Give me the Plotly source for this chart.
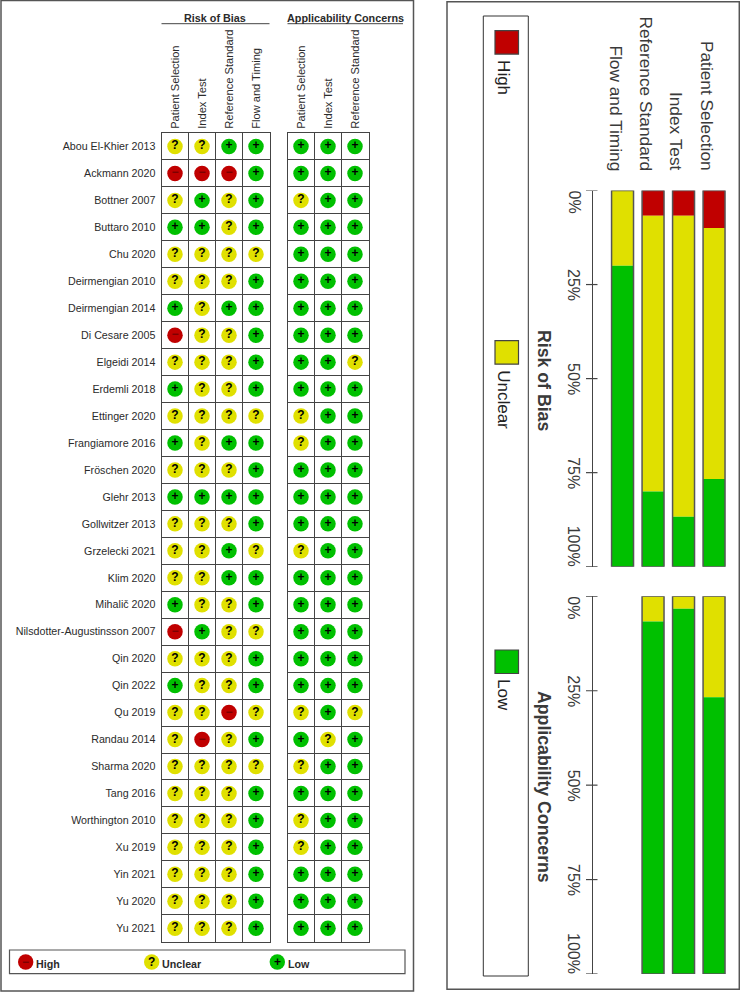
import plotly.graph_objects as go

WIDTH = 740
HEIGHT = 992

studies = ["Abou El-Khier 2013", "Ackmann 2020", "Bottner 2007", "Buttaro 2010", "Chu 2020",
           "Deirmengian 2010", "Deirmengian 2014", "Di Cesare 2005", "Elgeidi 2014", "Erdemli 2018",
           "Ettinger 2020", "Frangiamore 2016", "Fröschen 2020", "Glehr 2013", "Gollwitzer 2013",
           "Grzelecki 2021", "Klim 2020", "Mihalič 2020", "Nilsdotter-Augustinsson 2007", "Qin 2020",
           "Qin 2022", "Qu 2019", "Randau 2014", "Sharma 2020", "Tang 2016",
           "Worthington 2010", "Xu 2019", "Yin 2021", "Yu 2020", "Yu 2021"]

# one string per study: H high, U unclear, L low, four risk of bias columns then three applicability columns
judgements = ["UULLLLL", "HHHLLLL", "ULULULL", "LLULLLL", "UUUULLL",
              "UUULLLL", "LULLLLL", "HUULLLL", "UUULLLU", "LUULLLL",
              "UUUUULL", "LULLULL", "UUULLLL", "LLLLLLL", "UUULLLL",
              "UULUULL", "UULLLLL", "LUULLLL", "HLUULLL", "UUULLLL",
              "LUULLLL", "UUHUULU", "UHULLUL", "UUUUULL", "UUULLLL",
              "UUULULL", "UUULULL", "UUULLLL", "UUULLLL", "UUULLLL"]

domains_rob = ["Patient Selection", "Index Test", "Reference Standard", "Flow and Timing"]
domains_app = ["Patient Selection", "Index Test", "Reference Standard"]

# percent of studies, bars left to right
bar_domains = ["Flow and Timing", "Reference Standard", "Index Test", "Patient Selection"]
rob_high = [0, 6.7, 6.7, 10]
rob_unclear = [20, 73.3, 80, 66.7]
rob_low = [80, 20, 13.3, 23.3]
app_high = [0, 0, 0]
app_unclear = [6.7, 3.3, 26.7]
app_low = [93.3, 96.7, 73.3]
pct_ticks = [0, 25, 50, 75, 100]

RED = "#C00000"
YELLOW = "#E0E000"
GREEN = "#00C000"
LINE = "#444444"
TEXT = "#2b2b2b"
FONT = "Liberation Sans"
COLORS = {"H": RED, "U": YELLOW, "L": GREEN}
GLYPHS = {"H": "−", "U": "?", "L": "+"}
GLYPH_COLORS = {"H": "#7a0000", "U": "black", "L": "black"}


def fx(px):
    return px / WIDTH


def fy(py):
    return 1 - py / HEIGHT


fig = go.Figure()


def add_grid(first_col, n_cols, xname, yname):
    for i in range(n_cols):
        col = [row[first_col + i] for row in judgements]
        for mark in "HUL":
            rows = [r for r, v in enumerate(col) if v == mark]
            if not rows:
                continue
            fig.add_trace(go.Scatter(
                x=[i] * len(rows), y=rows, xaxis=xname, yaxis=yname, mode="markers+text",
                marker=dict(size=15.5, color=COLORS[mark], line=dict(width=0)),
                text=[GLYPHS[mark]] * len(rows), textposition="middle center",
                textfont=dict(family=FONT, size=12, color=GLYPH_COLORS[mark], weight="bold"),
                showlegend=False, hoverinfo="skip"))


add_grid(0, 4, "x", "y")
add_grid(4, 3, "x2", "y2")


def add_bars(high, unclear, low, xname, yname):
    xs = list(range(4 - len(high), 4))
    bases_l = [h + u for h, u in zip(high, unclear)]
    for vals, base, color in [(high, [0] * len(high), RED), (unclear, high, YELLOW), (low, bases_l, GREEN)]:
        fig.add_trace(go.Bar(x=xs, y=vals, base=base, width=0.72, xaxis=xname, yaxis=yname,
                             marker=dict(color=color, line=dict(width=0)),
                             showlegend=False, hoverinfo="skip"))
    # outline round the whole stack
    fig.add_trace(go.Bar(x=xs, y=[100] * len(xs), base=[0] * len(xs), width=0.72, xaxis=xname, yaxis=yname,
                         marker=dict(color="rgba(0,0,0,0)", line=dict(width=1.5, color="#555555")),
                         showlegend=False, hoverinfo="skip"))


add_bars(rob_high, rob_unclear, rob_low, "x3", "y3")
add_bars(app_high, app_unclear, app_low, "x4", "y4")

grid_minor = dict(tickmode="linear", tick0=-0.5, dtick=1, showgrid=True, gridcolor=LINE, gridwidth=1, ticks="")


def grid_xaxis(left, right, labels):
    return dict(domain=[fx(left), fx(right)], range=[-0.5, len(labels) - 0.5], side="top",
                tickmode="array", tickvals=list(range(len(labels))), ticktext=labels, tickangle=-90,
                tickfont=dict(family=FONT, size=11.1, color=TEXT), ticklen=0, ticklabelstandoff=1,
                showgrid=False, zeroline=False, showline=True, linecolor=LINE, linewidth=1, mirror=True,
                minor=grid_minor)


def grid_yaxis(xname, labels):
    return dict(domain=[fy(941.7), fy(133)], range=[29.5, -0.5], anchor=xname,
                tickmode="array", tickvals=list(range(30)), ticktext=labels,
                tickfont=dict(family=FONT, size=10.7, color=TEXT), ticklen=0, ticklabelstandoff=3,
                showgrid=False, zeroline=False, showline=True, linecolor=LINE, linewidth=1, mirror=True,
                minor=grid_minor)


def bar_yaxis(top, bottom):
    return dict(domain=[fy(bottom), fy(top)], range=[100, 0], anchor="free", position=fx(591.7),
                showgrid=False, zeroline=False, showticklabels=False, ticks="",
                showline=True, linecolor=LINE, linewidth=1.2)


def bar_xaxis():
    return dict(domain=[fx(607.3), fx(729.3)], range=[-0.5, 3.5], visible=False)


fig.update_layout(
    width=WIDTH, height=HEIGHT, margin=dict(l=0, r=0, t=0, b=0),
    paper_bgcolor="white", plot_bgcolor="rgba(0,0,0,0)", barmode="overlay",
    xaxis=dict(grid_xaxis(161.5, 269.5, domains_rob), anchor="y"),
    yaxis=grid_yaxis("x", studies),
    xaxis2=dict(grid_xaxis(287.5, 368.5, domains_app), anchor="y2"),
    yaxis2=dict(grid_yaxis("x2", [""] * 30), showticklabels=False),
    xaxis3=dict(bar_xaxis(), anchor="y3"),
    yaxis3=bar_yaxis(190.5, 566.7),
    xaxis4=dict(bar_xaxis(), anchor="y4"),
    yaxis4=bar_yaxis(596.3, 974),
)

shapes = []
annotations = []


def rect(x0, y0, x1, y1, color=LINE, width=1.0, fill=None):
    shapes.append(dict(type="rect", xref="paper", yref="paper", x0=fx(x0), x1=fx(x1), y0=fy(y1), y1=fy(y0),
                       line=dict(color=color, width=width), fillcolor=fill, layer="below" if fill is None else "above"))


def hline(x0, x1, y, color=LINE, width=1.0):
    shapes.append(dict(type="line", xref="paper", yref="paper", x0=fx(x0), x1=fx(x1), y0=fy(y), y1=fy(y),
                       line=dict(color=color, width=width)))


def label(text, x, y, size, bold=False, angle=0, xanchor="center", yanchor="middle", color=TEXT,
          xref="paper", yref="paper", xshift=0):
    annotations.append(dict(text=f"<b>{text}</b>" if bold else text, x=x, y=y, xref=xref, yref=yref,
                            showarrow=False, textangle=angle, xanchor=xanchor, yanchor=yanchor, xshift=xshift,
                            font=dict(family=FONT, size=size, color=color),
                            borderpad=0, borderwidth=0))


# panel frames
rect(1, 0.5, 413.5, 991, "#555555", 1.5)
rect(447, 1.7, 739.3, 989.3, "#555555", 1.5)
rect(9.5, 950, 405, 973.7, "#555555", 1.2)
rect(483.3, 16, 528.3, 976, "#333333", 1)
# header rules
hline(161.5, 269.5, 23.7)
hline(287.5, 403, 23.7)

label("Risk of Bias", fx(215), fy(18), 10.8, bold=True)
label("Applicability Concerns", fx(345), fy(18), 10.8, bold=True)

# left legend
for cx, mark, name in [(25.7, "H", "High"), (151.7, "U", "Unclear"), (277.3, "L", "Low")]:
    shapes.append(dict(type="circle", xref="paper", yref="paper", x0=fx(cx - 7.7), x1=fx(cx + 7.7),
                       y0=fy(962 + 7.7), y1=fy(962 - 7.7), fillcolor=COLORS[mark], line=dict(width=0), layer="above"))
    label(GLYPHS[mark], fx(cx), fy(961.5), 12, bold=True, color=GLYPH_COLORS[mark])
    label(name, fx(cx + 10.5), fy(964), 10.7, bold=True, xanchor="left")

# right legend
for top, mark, name in [(30.6, "H", "High"), (340.7, "U", "Unclear"), (650, "L", "Low")]:
    rect(495, top, 518.5, top + 23.5, "#444444", 1.2, COLORS[mark])
    label(name, fx(504), fy(top + 29), 17, angle=90, yanchor="top", color="#222222")

# bar category labels
for i, name in enumerate(bar_domains):
    label(name, i, fy(171), 17.3, angle=90, yanchor="bottom", xref="x3", xshift=-7, color="#3a3a3a")

label("Risk of Bias", fx(544), fy(380), 17.7, bold=True, angle=90, color="#3a3a3a")
label("Applicability Concerns", fx(544), fy(787), 17.7, bold=True, angle=90, color="#3a3a3a")

# percent axes: labels and crossing ticks
for axis in ["y3", "y4"]:
    for v in pct_ticks:
        anchor = "top" if v == 0 else "bottom" if v == 100 else "middle"
        label(f"{v}%", fx(573.5), v, 16, angle=90, yanchor=anchor, yref=axis, color="#3a3a3a")
        shapes.append(dict(type="line", xref="paper", yref=axis, x0=fx(586), x1=fx(597.5), y0=v, y1=v,
                           line=dict(color=LINE, width=1.2)))

fig.update_layout(shapes=shapes, annotations=annotations)

fig.write_html("out.html", config={"displayModeBar": False}, post_script="document.body.style.margin='0';")
